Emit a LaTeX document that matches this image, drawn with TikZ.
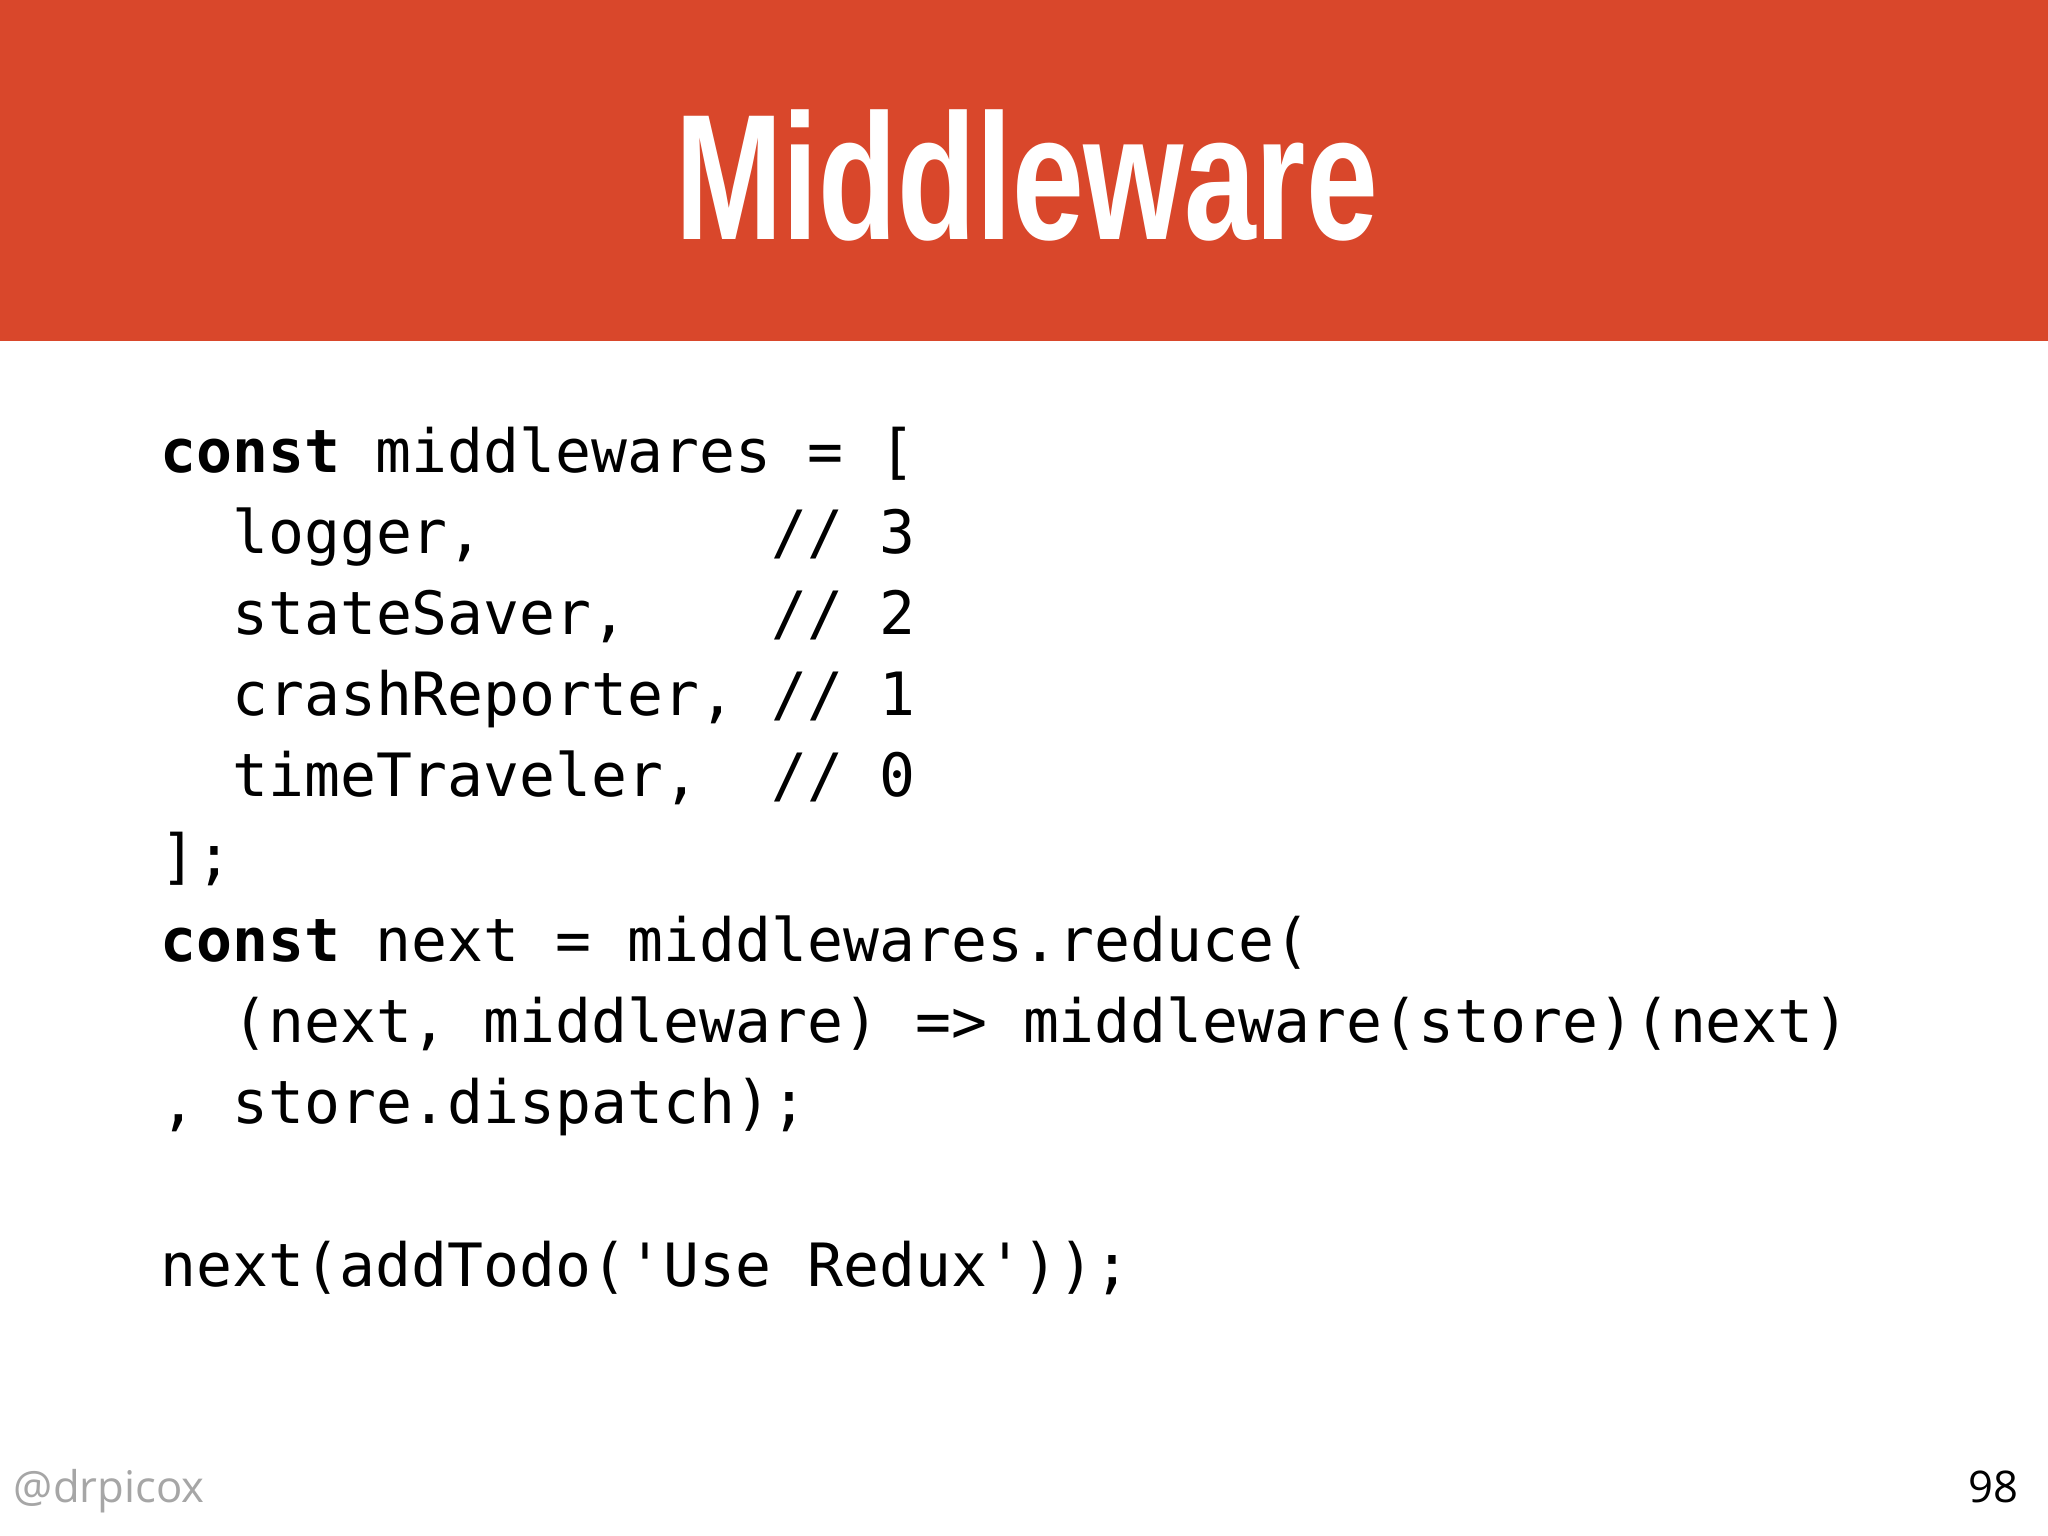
\documentclass[tikz,border=0pt]{standalone}
\usepackage{fontspec}
\setmainfont{Liberation Sans}
\setmonofont{DejaVu Sans Mono}
\newfontfamily\footfont{Open Sans}
\definecolor{hdr}{HTML}{D9472B}
\begin{document}
\begin{tikzpicture}[x=0.01cm,y=-0.01cm,
  code/.style={anchor=base west,inner sep=0,font=\ttfamily\fontsize{13}{13}\selectfont}]
\useasboundingbox (0,0) rectangle (1568,1176);
\fill[white] (0,0) rectangle (1568,1176);
\fill[hdr] (0,0) rectangle (1568,261);
\node[anchor=base,inner sep=0,text=white] (title) at (786,183)
  {\scalebox{0.72}[1]{\fontsize{39}{39}\selectfont\bfseries Middleware}};
\def\cw{27.55}
\node[code] (l1) at (122,362) {\textbf{const} middlewares = [};
\node[code] (l2) at (122+2*\cw,424) {logger,};
\node[code] (c2) at (122+17*\cw,424) {// 3};
\node[code] (l3) at (122+2*\cw,486) {stateSaver,};
\node[code] (c3) at (122+17*\cw,486) {// 2};
\node[code] (l4) at (122+2*\cw,548) {crashReporter,};
\node[code] (c4) at (122+17*\cw,548) {// 1};
\node[code] (l5) at (122+2*\cw,610) {timeTraveler,};
\node[code] (c5) at (122+17*\cw,610) {// 0};
\node[code] (l6) at (122,672) {];};
\node[code] (l7) at (122,736) {\textbf{const} next = middlewares.reduce(};
\node[code] (l8) at (122+2*\cw,798) {(next, middleware) => middleware(store)(next)};
\node[code] (l9) at (122,860) {,};
\node[code] (l9b) at (122+2*\cw,860) {store.dispatch);};
\node[code] (l10) at (122,985) {next(addTodo('Use Redux'));};
\node[anchor=base west,inner sep=0,text=gray!70,font=\footfont\fontsize{9.5}{10}\selectfont] (foot) at (10,1150) {@drpicox};
\node[anchor=base east,inner sep=0,text=black,font=\footfont\fontsize{9.5}{10}\selectfont] (pg) at (1546,1150) {98};
\end{tikzpicture}
\end{document}
